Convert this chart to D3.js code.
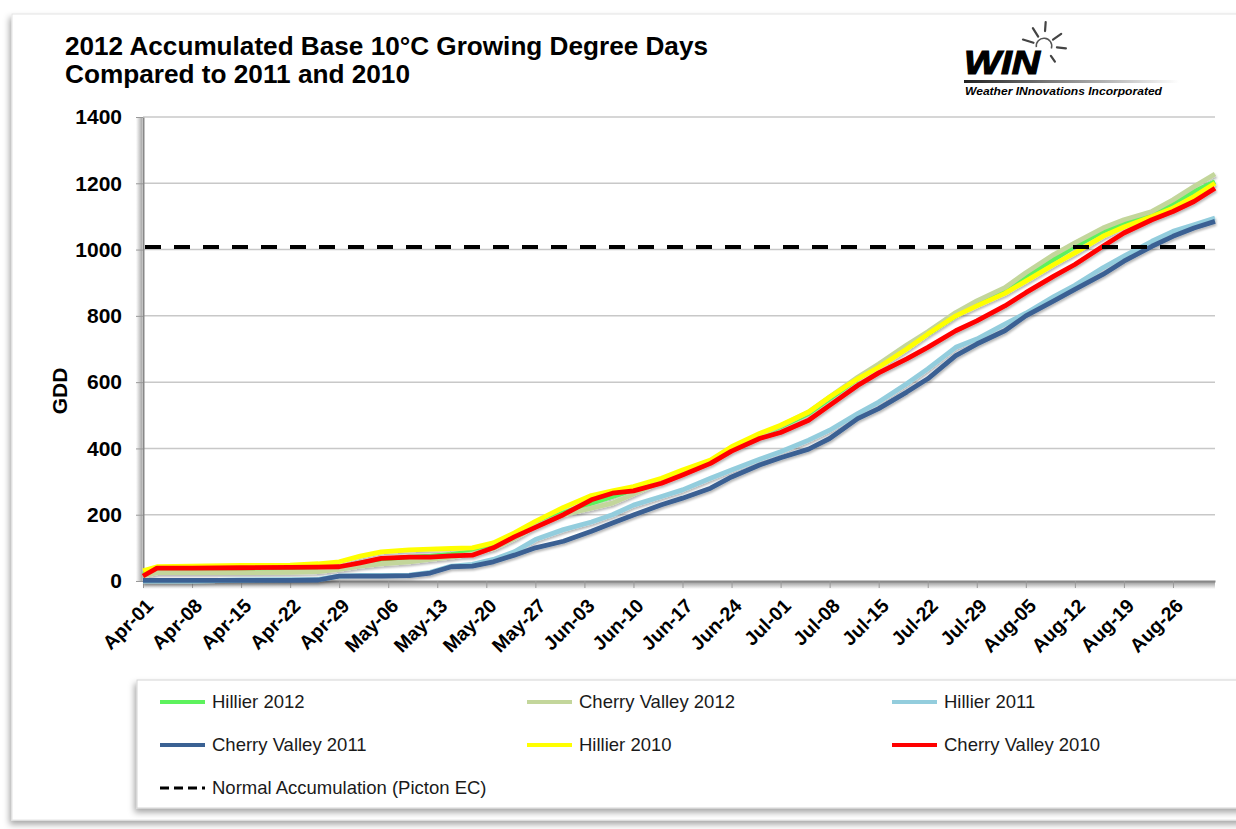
<!DOCTYPE html>
<html>
<head>
<meta charset="utf-8">
<script src="https://cdn.jsdelivr.net/npm/d3@7"></script>
<style>
body { margin: 0; background: #fff; }
svg { font-family: Arial, 'Liberation Sans', sans-serif; }
</style>
</head>
<body>
<svg width="1236" height="829"></svg>
<script>
var days = [0, 2, 7, 14, 21, 25, 28, 31, 34, 38, 41, 44, 47, 50, 53, 56, 60, 64, 67, 70, 74, 77, 81, 84,
  88, 91, 95, 98, 102, 105, 109, 112, 116, 119, 123, 126, 130, 133, 137, 140, 144, 147, 150, 153];

// Accumulated GDD per series.
var hillier2012 = [20, 30, 32, 33, 34, 35, 40, 55, 65, 72, 75, 80, 88, 105, 135, 170, 205, 235, 255, 275, 305, 330, 360, 400,
  440, 465, 505, 550, 610, 650, 705, 745, 800, 840, 880, 920, 970, 1010, 1055, 1080, 1110, 1140, 1175, 1205];
var cherryValley2012 = [15, 25, 25, 25, 26, 28, 35, 45, 52, 58, 65, 72, 82, 98, 128, 165, 200, 220, 235, 262, 300, 328, 358, 398,
  440, 468, 510, 555, 615, 655, 712, 752, 810, 845, 885, 930, 985, 1020, 1065, 1090, 1115, 1150, 1190, 1228];
var hillier2011 = [0, 0, 0, 3, 4, 5, 15, 17, 17, 18, 26, 45, 50, 65, 88, 125, 155, 178, 200, 229, 255, 275, 310, 335,
  367, 390, 425, 455, 505, 540, 595, 640, 705, 730, 775, 808, 858, 892, 945, 980, 1025, 1055, 1075, 1095];
var cherryValley2011 = [2, 2, 2, 2, 2, 3, 15, 15, 15, 16, 24, 43, 45, 58, 78, 100, 120, 150, 175, 199, 230, 250, 280, 314,
  350, 372, 398, 430, 490, 520, 570, 610, 680, 715, 755, 800, 845, 880, 925, 965, 1010, 1040, 1065, 1085];
var hillier2010 = [31, 43, 45, 47, 48, 52, 58, 75, 88, 94, 96, 98, 100, 115, 145, 180, 222, 258, 272, 285, 310, 335, 365, 405,
  445, 470, 510, 555, 610, 645, 700, 745, 800, 830, 868, 905, 955, 990, 1040, 1068, 1100, 1125, 1160, 1200];
var cherryValley2010 = [15, 39, 39, 40, 41, 42, 43, 55, 68, 72, 72, 76, 78, 100, 133, 162, 200, 245, 265, 272, 295, 320, 355, 392,
  430, 448, 485, 530, 590, 628, 670, 705, 755, 785, 830, 870, 920, 955, 1010, 1050, 1090, 1115, 1145, 1185];

var normalAccumulation = 1008;

var seriesNames = ['Hillier 2012', 'Cherry Valley 2012', 'Hillier 2011', 'Cherry Valley 2011', 'Hillier 2010', 'Cherry Valley 2010'];
var seriesValues = [hillier2012, cherryValley2012, hillier2011, cherryValley2011, hillier2010, cherryValley2010];
var normalName = 'Normal Accumulation (Picton EC)';

var yTicks = [0, 200, 400, 600, 800, 1000, 1200, 1400];
var xTickLabels = ['Apr-01', 'Apr-08', 'Apr-15', 'Apr-22', 'Apr-29', 'May-06', 'May-13', 'May-20', 'May-27', 'Jun-03', 'Jun-10',
  'Jun-17', 'Jun-24', 'Jul-01', 'Jul-08', 'Jul-15', 'Jul-22', 'Jul-29', 'Aug-05', 'Aug-12', 'Aug-19', 'Aug-26'];

var colors = ['#5df25d', '#c3d69b', '#93cddd', '#3a6193', '#ffff00', '#ff0000'];

// Basic set up.

var svg = d3.select('svg');
var plot = {left: 143, right: 1215, top: 117, bottom: 581};
var start = new Date(2012, 3, 1);
var addDays = function(n) { return d3.timeDay.offset(start, n); };

var x = d3.scaleTime().domain([start, addDays(153)]).range([plot.left, plot.right]);
var y = d3.scaleLinear().domain([0, 1400]).range([plot.bottom, plot.top]);

var defs = svg.append('defs');
var sh = defs.append('filter').attr('id', 'shadow').attr('x', '-5%').attr('y', '-5%').attr('width', '110%').attr('height', '120%');
sh.append('feDropShadow').attr('dx', 1).attr('dy', 2).attr('stdDeviation', 1.2).attr('flood-color', '#000').attr('flood-opacity', 0.28);
var boxSh = defs.append('filter').attr('id', 'boxshadow').attr('x', '-5%').attr('y', '-10%').attr('width', '110%').attr('height', '130%');
boxSh.append('feDropShadow').attr('dx', -2).attr('dy', 4).attr('stdDeviation', 3).attr('flood-color', '#000').attr('flood-opacity', 0.35);
var fade = defs.append('linearGradient').attr('id', 'fade');
fade.append('stop').attr('offset', '0%').attr('stop-color', '#222');
fade.append('stop').attr('offset', '100%').attr('stop-color', '#fff');
var downShade = defs.append('linearGradient').attr('id', 'downshade').attr('x1', 0).attr('x2', 0).attr('y1', 0).attr('y2', 1);
downShade.append('stop').attr('offset', '0%').attr('stop-color', '#999');
downShade.append('stop').attr('offset', '100%').attr('stop-color', '#fff');
var leftShade = defs.append('linearGradient').attr('id', 'leftshade').attr('x1', 1).attr('x2', 0).attr('y1', 0).attr('y2', 0);
leftShade.append('stop').attr('offset', '0%').attr('stop-color', '#aaa');
leftShade.append('stop').attr('offset', '100%').attr('stop-color', '#fff');

// Outer chart frame.

svg.append('rect')
  .attr('x', 12).attr('y', 14).attr('width', 1240).attr('height', 806)
  .attr('fill', '#fff').attr('stroke', '#e4e4e4')
  .attr('filter', 'url(#boxshadow)');

// Title and logo.

svg.append('text').attr('x', 65).attr('y', 55)
  .attr('font-size', 26).attr('font-weight', 'bold')
  .attr('textLength', 643).attr('lengthAdjust', 'spacingAndGlyphs')
  .text('2012 Accumulated Base 10°C Growing Degree Days');
svg.append('text').attr('x', 65).attr('y', 83)
  .attr('font-size', 26).attr('font-weight', 'bold')
  .attr('textLength', 345).attr('lengthAdjust', 'spacingAndGlyphs')
  .text('Compared to 2011 and 2010');

var logo = svg.append('g');
var sun = {x: 1044, y: 46};
var rays = [[197, 11, 22], [-122, 11, 21], [-86, 15, 24], [-35, 11, 21], [6, 13, 22], [55, 12, 19]];
logo.selectAll('line.ray').data(rays).enter().append('line')
  .attr('x1', function(d) { return sun.x + d[1] * Math.cos(d[0] * Math.PI / 180); })
  .attr('y1', function(d) { return sun.y + d[1] * Math.sin(d[0] * Math.PI / 180); })
  .attr('x2', function(d) { return sun.x + d[2] * Math.cos(d[0] * Math.PI / 180); })
  .attr('y2', function(d) { return sun.y + d[2] * Math.sin(d[0] * Math.PI / 180); })
  .attr('stroke', '#444').attr('stroke-width', 2.2).attr('stroke-linecap', 'round');
logo.append('path')
  .attr('d', d3.arc()({innerRadius: 7, outerRadius: 8.5, startAngle: -Math.PI * 0.55, endAngle: Math.PI * 0.6}))
  .attr('transform', 'translate(' + sun.x + ',' + sun.y + ')')
  .attr('fill', '#555');
logo.append('text').attr('x', 964).attr('y', 74)
  .attr('font-size', 34).attr('font-weight', 'bold').attr('font-style', 'italic')
  .attr('stroke', '#000').attr('stroke-width', 1.2)
  .attr('textLength', 76).attr('lengthAdjust', 'spacingAndGlyphs')
  .text('WIN');
logo.append('rect').attr('x', 964).attr('y', 80).attr('width', 215).attr('height', 3).attr('fill', 'url(#fade)');
logo.append('text').attr('x', 965).attr('y', 95)
  .attr('font-size', 10).attr('font-weight', 'bold').attr('font-style', 'italic')
  .attr('textLength', 197).attr('lengthAdjust', 'spacingAndGlyphs')
  .text('Weather INnovations Incorporated');

// Grid lines.

svg.append('g').selectAll('line').data(yTicks.slice(1)).enter().append('line')
  .attr('x1', plot.left).attr('x2', plot.right)
  .attr('y1', function(d) { return y(d); }).attr('y2', function(d) { return y(d); })
  .attr('stroke', '#c8c8c8').attr('stroke-width', 1.5);

// Axis shadows.

svg.append('rect').attr('x', plot.left - 7).attr('y', plot.top).attr('width', 6).attr('height', plot.bottom - plot.top)
  .attr('fill', 'url(#leftshade)');
svg.append('rect').attr('x', plot.left).attr('y', plot.bottom + 1).attr('width', plot.right - plot.left).attr('height', 7)
  .attr('fill', 'url(#downshade)');

// Axes.

var tickDates = xTickLabels.map(function(d, i) { return addDays(i * 7); });

var xAxis = svg.append('g')
  .attr('transform', 'translate(0,' + plot.bottom + ')')
  .call(d3.axisBottom(x).tickValues(tickDates).tickSize(7).tickSizeOuter(0)
    .tickFormat(function(d, i) { return xTickLabels[i]; }));
xAxis.select('.domain').attr('stroke', '#888').attr('stroke-width', 2);
xAxis.selectAll('.tick line').attr('stroke', '#999').attr('stroke-width', 1);
xAxis.selectAll('.tick text')
  .attr('font-size', 19.5).attr('font-weight', 'bold').attr('fill', '#000')
  .attr('text-anchor', 'end').attr('y', 0).attr('dy', 0)
  .attr('transform', 'translate(11,26) rotate(-45)');

var yAxis = svg.append('g')
  .attr('transform', 'translate(' + plot.left + ',0)')
  .call(d3.axisLeft(y).tickValues(yTicks).tickSize(7).tickPadding(14).tickSizeOuter(0).tickFormat(d3.format('d')));
yAxis.select('.domain').attr('stroke', '#888').attr('stroke-width', 2);
yAxis.selectAll('.tick line').attr('stroke', '#999').attr('stroke-width', 1);
yAxis.selectAll('.tick text').attr('font-size', 21).attr('font-weight', 'bold').attr('fill', '#000');

svg.append('text')
  .attr('transform', 'translate(67,391) rotate(-90)')
  .attr('text-anchor', 'middle').attr('font-size', 21).attr('font-weight', 'bold')
  .text('GDD');

// Draw the lines.

var line = d3.line()
  .x(function(d, i) { return x(addDays(days[i])); })
  .y(function(d) { return y(d); });

svg.append('g').attr('filter', 'url(#shadow)')
  .selectAll('path').data(seriesValues).enter().append('path')
  .attr('d', line)
  .attr('fill', 'none')
  .attr('stroke', function(d, i) { return colors[i]; })
  .attr('stroke-width', 4.8)
  .attr('stroke-linejoin', 'round');

svg.append('line')
  .attr('x1', plot.left + 2).attr('x2', plot.right - 2)
  .attr('y1', y(normalAccumulation)).attr('y2', y(normalAccumulation))
  .attr('stroke', '#000').attr('stroke-width', 4).attr('stroke-dasharray', '16,13');

// Legend.

svg.append('rect')
  .attr('x', 137).attr('y', 680).attr('width', 1110).attr('height', 128)
  .attr('fill', '#fff').attr('stroke', '#d4d4d4')
  .attr('filter', 'url(#boxshadow)');

var legendItems = seriesNames.map(function(n, i) { return {name: n, color: colors[i], dash: null}; });
legendItems.push({name: normalName, color: '#000', dash: '9,5'});

var legend = svg.append('g').selectAll('g').data(legendItems).enter().append('g')
  .attr('transform', function(d, i) { return 'translate(' + [160, 527, 892][i % 3] + ',' + (702 + Math.floor(i / 3) * 43) + ')'; });

legend.append('line')
  .attr('x1', 0).attr('x2', 45)
  .attr('stroke', function(d) { return d.color; })
  .attr('stroke-width', function(d) { return d.dash ? 3 : 4; })
  .attr('stroke-dasharray', function(d) { return d.dash; });

legend.append('text')
  .attr('x', 52).attr('dy', '0.35em')
  .attr('font-size', 18.5).attr('fill', '#1a1a1a')
  .text(function(d) { return d.name; });
</script>
</body>
</html>
